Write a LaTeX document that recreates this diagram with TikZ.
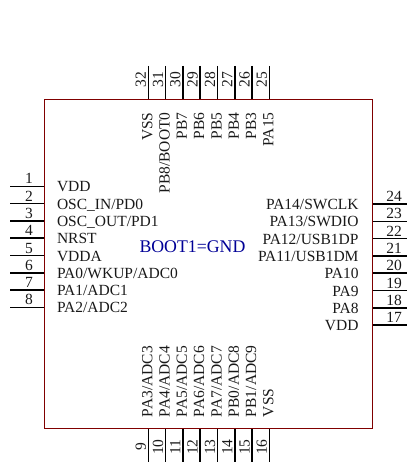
\documentclass[tikz,border=0pt]{standalone}
\usepackage{fontspec}
\setmainfont{Liberation Serif}
\definecolor{chipred}{RGB}{128,0,0}
\definecolor{chipblue}{RGB}{0,0,150}
\definecolor{txt}{RGB}{25,25,25}
\tikzset{x=1pt,y=-1pt,
 pinline/.style={draw=black,line width=1.5pt},
 chip/.style={draw=chipred,line width=1pt},
 lab/.style={inner sep=0pt,outer sep=0pt,text=txt,font=\fontsize{15.5}{15.5}\selectfont},
 num/.style={lab,font=\fontsize{15.5}{15.5}\selectfont},
}
\begin{document}
\begin{tikzpicture}
\useasboundingbox (0,0) rectangle (408,465);
% left
\foreach \i/\n/\t in {0/1/VDD,1/2/{OSC\_IN/PD0},2/3/{OSC\_OUT/PD1},3/4/{NRST},4/5/VDDA,5/6/{PA0/WKUP/ADC0},6/7/{PA1/ADC1},7/8/{PA2/ADC2}}{
  \pgfmathsetmacro\yy{186.3+17.3*\i}
  \coordinate (L\n a) at (10,\yy);
  \coordinate (L\n b) at (44.5,\yy);
  \draw[pinline] (L\n a) -- (L\n b);
  \node[num,anchor=base] (Ln\n) at (29,\yy-2.5) {\n};
  \node[lab,anchor=base west] (Lt\n) at (57,\yy+5.5) {\t};
}
% right
\foreach \i/\n/\t in {0/24/{PA14/SWCLK},1/23/{PA13/SWDIO},2/22/{PA12/USB1DP},3/21/{PA11/USB1DM},4/20/PA10,5/19/PA9,6/18/PA8,7/17/VDD}{
  \pgfmathsetmacro\yy{204+17.3*\i}
  \coordinate (R\n a) at (372.5,\yy);
  \coordinate (R\n b) at (407,\yy);
  \draw[pinline] (R\n a) -- (R\n b);
  \node[num,anchor=base] (Rn\n) at (394,\yy-2.5) {\n};
  \node[lab,anchor=base east] (Rt\n) at (358.5,\yy+5.5) {\t};
}
% top
\foreach \i/\n/\t in {0/32/VSS,1/31/{PB8/BOOT0},2/30/PB7,3/29/PB6,4/28/PB5,5/27/PB4,6/26/PB3,7/25/PA15}{
  \pgfmathsetmacro\xx{148.3+17.3*\i}
  \coordinate (T\n a) at (\xx,66);
  \coordinate (T\n b) at (\xx,100);
  \draw[pinline] (T\n a) -- (T\n b);
  \node[num,rotate=90,anchor=base] (Tn\n) at (\xx-2.5,79.5) {\n};
  \node[lab,rotate=90,anchor=base east] (Tt\n) at (\xx+4,112.5) {\t};
}
% bottom
\foreach \i/\n/\t in {0/9/{PA3/ADC3},1/10/{PA4/ADC4},2/11/{PA5/ADC5},3/12/{PA6/ADC6},4/13/{PA7/ADC7},5/14/{PB0/ADC8},6/15/{PB1/ADC9},7/16/VSS}{
  \pgfmathsetmacro\xx{148.3+17.3*\i}
  \coordinate (B\n a) at (\xx,428);
  \coordinate (B\n b) at (\xx,462);
  \draw[pinline] (B\n a) -- (B\n b);
  \node[num,rotate=90,anchor=base] (Bn\n) at (\xx-2.5,447) {\n};
  \node[lab,rotate=90,anchor=base west] (Bt\n) at (\xx+4,417) {\t};
}
\draw[chip] (44.5,100) rectangle (372.5,428);
\node[lab,text=chipblue,anchor=base west,font=\fontsize{17.8}{17.8}\selectfont] (boot) at (139.5,252) {BOOT1=GND};
\end{tikzpicture}
\end{document}
